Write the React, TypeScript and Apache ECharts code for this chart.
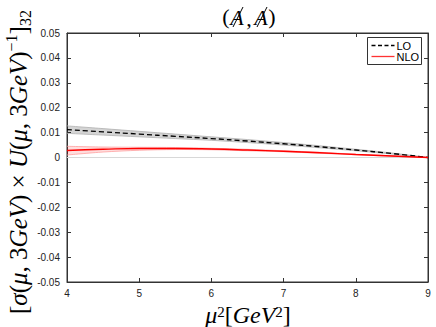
import React, { useEffect, useRef } from "react";
import * as echarts from "echarts";

const xs = [4, 4.5, 5, 5.5, 6, 6.5, 7, 7.5, 8, 8.5, 9];
const lo = [0.0112, 0.0103, 0.0094, 0.0085, 0.0076, 0.0066, 0.0055, 0.0043, 0.003, 0.0016, 0];
const loUp = [0.0127, 0.0116, 0.0105, 0.0094, 0.0083, 0.0072, 0.006, 0.0047, 0.0033, 0.0018, 0];
const loDn = [0.0097, 0.009, 0.0083, 0.0076, 0.0069, 0.006, 0.005, 0.0039, 0.0027, 0.0014, 0];
const nlo = [0.0028, 0.0033, 0.0036, 0.0036, 0.0034, 0.003, 0.0025, 0.0019, 0.0012, 0.0006, 0];
const nloUp = [0.0045, 0.0042, 0.0041, 0.004, 0.0037, 0.0033, 0.0027, 0.0021, 0.0013, 0.0007, 0];
const nloDn = [0.001, 0.0022, 0.0029, 0.0032, 0.0031, 0.0027, 0.0023, 0.0017, 0.0011, 0.0005, 0];

const pairs = (v: number[]) => xs.map((x, i) => [x, v[i]]);

const bandSeries = (up: number[], dn: number[], fill: string, edge: string) => ({
  type: "custom",
  silent: true,
  z: 2,
  data: [[xs[0], up[0]]],
  renderItem: (_p: any, api: any) => {
    const top = xs.map((x, i) => api.coord([x, up[i]]));
    const bot = xs.map((x, i) => api.coord([x, dn[i]])).reverse();
    return {
      type: "group",
      children: [
        { type: "polygon", shape: { points: top.concat(bot) }, style: { fill, stroke: "none" } },
        { type: "polyline", shape: { points: top, smooth: 0.3 }, style: { fill: "none", stroke: edge, lineWidth: 0.8 } },
        { type: "polyline", shape: { points: bot, smooth: 0.3 }, style: { fill: "none", stroke: edge, lineWidth: 0.8 } },
      ],
    };
  },
});

const serif = "Liberation Serif";
const mathRich = (fs: number, lh: number) => ({
  n: { fontFamily: serif, fontSize: fs, fill: "#000", lineHeight: lh },
  i: { fontFamily: serif, fontStyle: "italic", fontSize: fs, fill: "#000", lineHeight: lh },
  sup: { fontFamily: serif, fontSize: Math.round(fs * 0.62), fill: "#000", verticalAlign: "top", lineHeight: lh },
  sub: { fontFamily: serif, fontSize: Math.round(fs * 0.62), fill: "#000", verticalAlign: "bottom", lineHeight: lh },
});

export default function App() {
  const ref = useRef<HTMLDivElement>(null);
  useEffect(() => {
    const chart = echarts.init(ref.current!, null, { renderer: "svg" });
    const tickFont = { fontFamily: "Liberation Sans", fontSize: 10, color: "#222" };
    const axisCommon = {
      axisLine: { show: true, onZero: false, lineStyle: { color: "#333" } },
      axisTick: { inside: true, length: 4, lineStyle: { color: "#333" } },
      splitLine: { show: false },
    };
    const tFont = { fontFamily: serif, fontSize: 22, fill: "#000", textAlign: "center", textVerticalAlign: "middle" };
    const tItal = { ...tFont, fontStyle: "italic" };
    const slash = { stroke: "#000", lineWidth: 1 };
    chart.setOption({
      animation: false,
      grid: {
        left: 67, right: 8, top: 33, bottom: 45, show: true, borderColor: "#333", borderWidth: 1,
        backgroundColor: "transparent", outerBoundsMode: "none", containLabel: false,
      },
      xAxis: [
        {
          type: "value", min: 4, max: 9, interval: 1, ...axisCommon,
          axisLabel: { ...tickFont, margin: 6 },
        },
        {
          type: "value", min: 4, max: 9, interval: 1, position: "top", ...axisCommon,
          axisLabel: { show: false },
        },
      ],
      yAxis: [
        {
          type: "value", min: -0.05, max: 0.05, interval: 0.01, ...axisCommon,
          axisLabel: { ...tickFont, margin: 7, formatter: (v: number) => (Math.abs(v) < 1e-9 ? "0" : v.toFixed(2)) },
        },
        {
          type: "value", min: -0.05, max: 0.05, interval: 0.01, position: "right", ...axisCommon,
          axisLabel: { show: false },
        },
      ],
      graphic: [
        // title (A-slash, A-slash)
        { type: "text", x: 226, y: 16, style: { ...tFont, text: "(" } },
        { type: "text", x: 237, y: 17, style: { ...tItal, text: "A" } },
        { type: "line", shape: { x1: 233, y1: 27, x2: 243, y2: 7 }, style: slash },
        { type: "text", x: 249, y: 18, style: { ...tFont, text: "," } },
        { type: "text", x: 261, y: 17, style: { ...tItal, text: "A" } },
        { type: "line", shape: { x1: 257, y1: 27, x2: 267, y2: 7 }, style: slash },
        { type: "text", x: 272, y: 16, style: { ...tFont, text: ")" } },
        // y-axis title
        {
          type: "text",
          x: 18,
          y: 162,
          rotation: Math.PI / 2,
          style: {
            text: "{n|[}{i|\u03c3}{n|(}{i|\u03bc}{n|, 3}{i|GeV}{n|) \u00d7 }{i|U}{n|(}{i|\u03bc}{n|, 3}{i|GeV}{n|)}{sup|\u22121}{n|]}{sub|32}",
            rich: mathRich(25, 30),
            textAlign: "center",
            textVerticalAlign: "middle",
          },
        },
        // x-axis title
        {
          type: "text",
          x: 248,
          y: 315,
          style: {
            text: "{i|\u03bc}{sup|2}{n|[}{i|GeV}{sup|2}{n|]}",
            rich: mathRich(24, 22),
            textAlign: "center",
            textVerticalAlign: "middle",
          },
        },
        // legend
        {
          type: "group",
          left: 367,
          top: 37,
          children: [
            { type: "rect", shape: { x: 0, y: 0, width: 54, height: 27 }, style: { fill: "#fff", stroke: "#333", lineWidth: 1 } },
            { type: "line", shape: { x1: 4, y1: 8, x2: 27, y2: 8 }, style: { stroke: "#000", lineWidth: 1.3, lineDash: [4, 2.5] } },
            { type: "line", shape: { x1: 4, y1: 19, x2: 27, y2: 19 }, style: { stroke: "#ff3333", lineWidth: 1.3 } },
            { type: "text", x: 29, y: 8, style: { text: "LO", fontFamily: "Liberation Sans", fontSize: 11, fill: "#000", textVerticalAlign: "middle" } },
            { type: "text", x: 29, y: 19, style: { text: "NLO", fontFamily: "Liberation Sans", fontSize: 11, fill: "#000", textVerticalAlign: "middle" } },
          ],
        },
      ],
      series: [
        {
          name: "zero", type: "line", data: [[4, 0], [9, 0]], symbol: "none", silent: true,
          lineStyle: { color: "#d8d8d8", width: 1 }, z: 1,
        },
        bandSeries(loUp, loDn, "rgba(0,0,0,0.17)", "#b0b0b0"),
        bandSeries(nloUp, nloDn, "rgba(255,0,0,0.13)", "#ffa0a0"),
        {
          name: "LO", type: "line", data: pairs(lo), symbol: "none", smooth: true,
          lineStyle: { color: "#000", width: 1.4, type: [5, 3] }, z: 5,
        },
        {
          name: "NLO", type: "line", data: pairs(nlo), symbol: "none", smooth: true,
          lineStyle: { color: "#ff0000", width: 1.4 }, z: 5,
        },
      ],
    });
    return () => chart.dispose();
  }, []);
  return <div ref={ref} style={{ width: 436, height: 327, position: "absolute", left: 0, top: 0 }} />;
}
